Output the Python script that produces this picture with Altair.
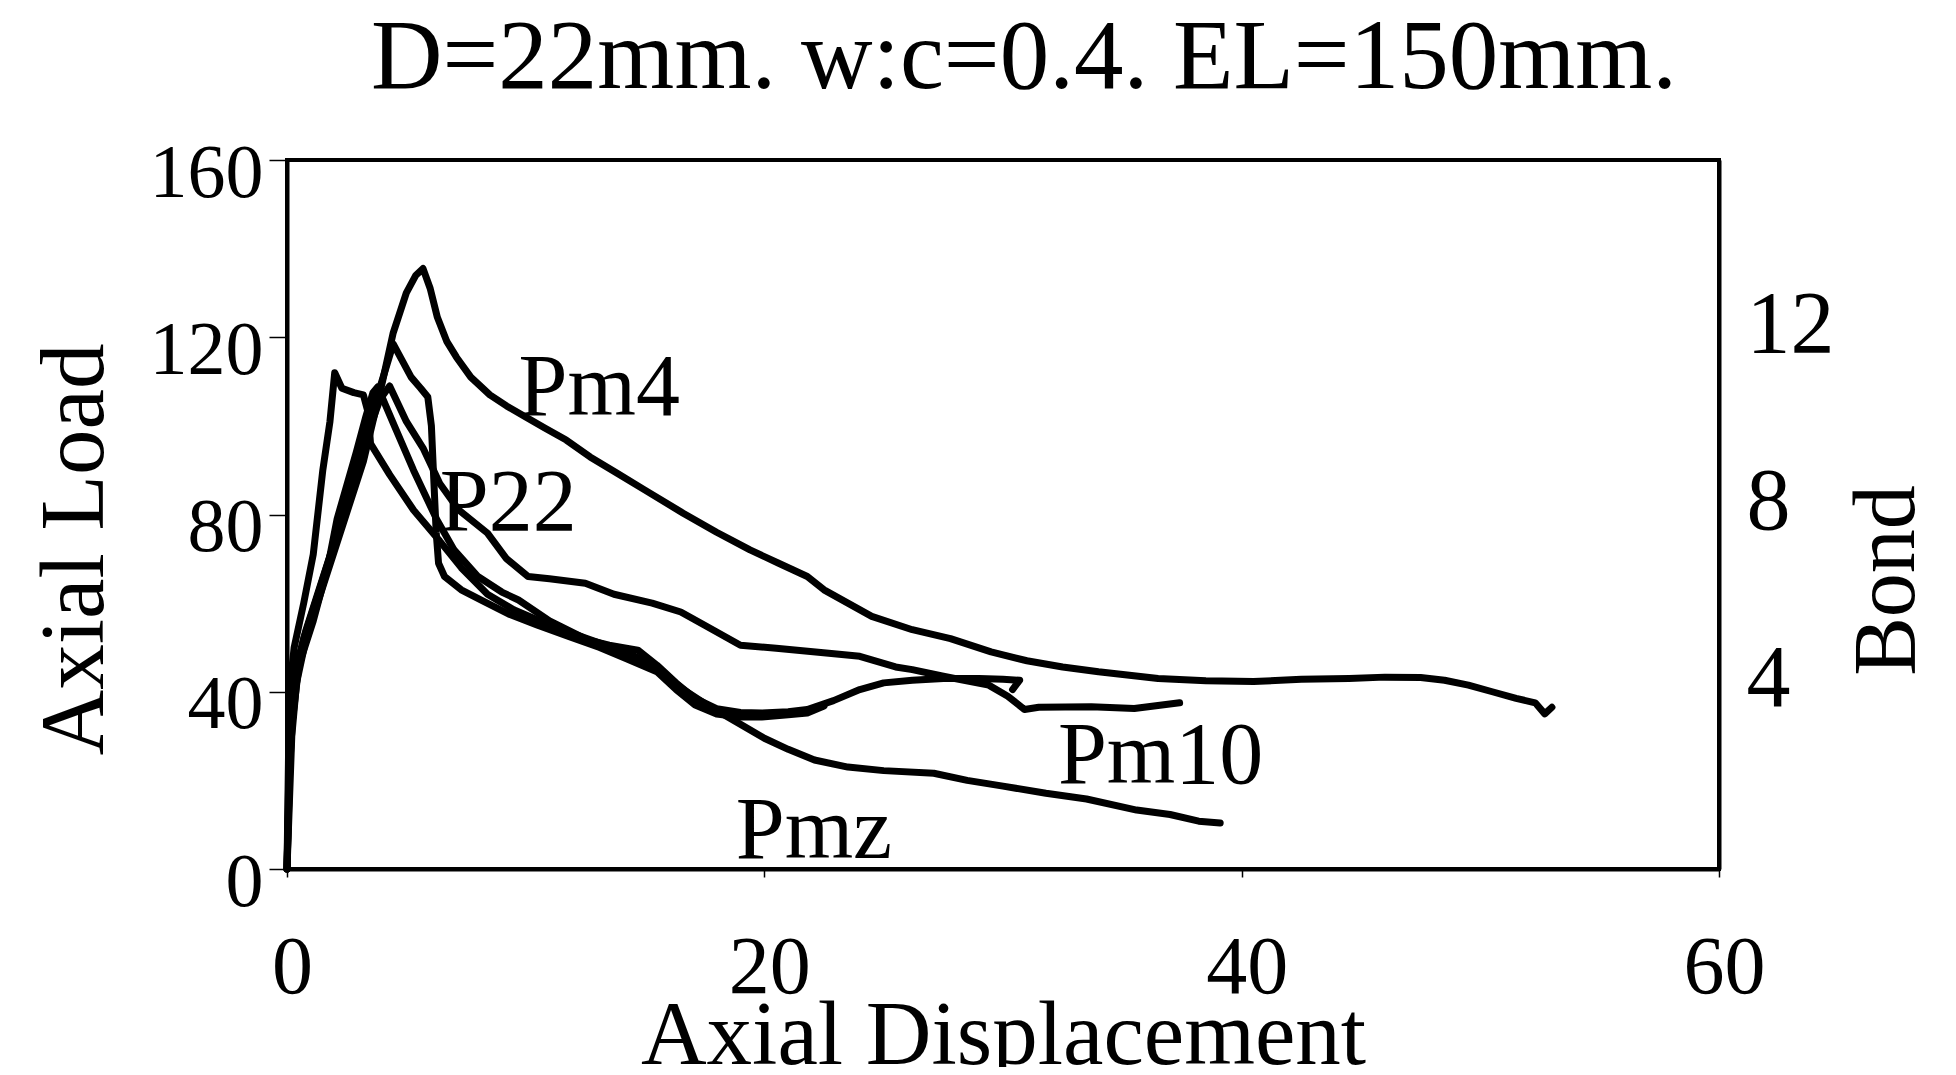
import altair as alt
import pandas as pd

TITLE = "D=22mm. w:c=0.4. EL=150mm."
FONT = "Liberation Serif"

# ---- series (Axial Displacement, Axial Load) ----
pm4_x = [0, 0.1, 0.2, 0.4, 0.8, 1.4, 2.0, 2.6, 3.2, 3.6, 4.0, 4.45, 5.0, 5.4, 5.7, 6.0, 6.3, 6.7, 7.1, 7.7,
         8.5, 9.2, 10.0, 10.8, 11.7, 12.7, 13.8, 15.0, 16.6, 18.0, 19.4, 20.6, 21.8, 22.5, 23.5, 24.5, 26.2,
         27.8, 29.5, 31.0, 32.5, 34.0, 36.5, 38.5, 40.5, 42.5, 44.5, 46.0, 47.5, 48.5, 49.5, 50.5, 51.5,
         52.3, 52.7, 53.0]
pm4_y = [0, 15, 30, 42, 52, 62, 72, 82, 92, 101, 110, 121, 130, 134, 135.5, 131, 124.5, 119, 115.5, 111,
         107, 104.5, 102, 99.5, 96.8, 93, 89.4, 85.5, 80.3, 76, 72, 69, 66, 63, 60, 57, 54,
         52, 49, 47, 45.6, 44.5, 43, 42.5, 42.3, 42.8, 43, 43.3, 43.2, 42.6, 41.5, 40, 38.5,
         37.5, 35, 36.5]

mid_x = [0, 0.1, 0.35, 0.8, 1.4, 2.0, 2.5, 3.0, 3.5, 3.9, 4.3, 5.0, 5.7, 6.4, 7.2, 8.4, 9.2, 10.1, 11.0,
         12.5, 13.7, 15.3, 16.5, 17.5, 19.0, 20.5, 22.7, 24.0, 25.5, 26.2, 27.5, 29.4, 30.2, 30.9, 31.5,
         33.7, 35.5, 37.4]
mid_y = [0, 28, 45, 54, 64, 74, 84, 93, 100, 106, 109, 101, 95, 87, 81, 75.8, 70, 66, 65.5,
         64.5, 62, 60, 58, 55, 50.5, 49.8, 48.7, 48, 45.6, 45, 43.5, 41.5, 39, 36, 36.5,
         36.6, 36.2, 37.5]

dip_x = [0, 0.15, 0.5, 1.1, 1.7, 2.1, 2.9, 3.3, 3.6, 3.8, 4.5, 5.3, 6.28, 7.0, 8.0, 9.0, 9.7, 11.0, 12.6,
         13.5, 14.7, 15.5, 16.3, 17.1, 18.0, 19.0, 19.9, 21.0, 21.8, 22.9, 24.0, 25.0, 26.2, 27.5, 29.0,
         30.0, 30.7, 30.4]
dip_y = [0, 30, 46, 56, 68, 79, 94, 102, 107.5, 108.8, 100, 90, 78.8, 72, 66, 62.5, 60.7, 56, 51.7,
         50.5, 49.4, 46, 42, 38.5, 36.2, 35.3, 35.2, 35.5, 36, 38, 40.5, 42, 42.6, 43, 43,
         42.8, 42.6, 40.5]

pmz_x = [0, 0.05, 0.1, 0.3, 0.7, 1.1, 1.5, 1.8, 2.0, 2.3, 2.8, 3.2, 3.4, 3.5, 4.3, 5.3, 6.4, 7.3, 8.4,
         9.5, 10.6, 11.8, 13.1, 14.2, 15.5, 16.6, 17.6, 18.7, 20.0, 21.0, 22.1, 23.5, 25.0, 27.1, 28.5,
         30.0, 31.8, 33.5, 35.6, 37.0, 38.2, 39.1]
pmz_y = [0, 20, 40, 50, 60, 71, 90, 101, 112, 108.5, 107.5, 107, 103, 96, 89, 81, 74, 68, 62,
         58.5, 56, 53.5, 51, 49, 45.6, 40.5, 37, 33.6, 29.5, 27, 24.6, 23, 22.2, 21.6, 20,
         18.7, 17.1, 15.8, 13.3, 12.3, 10.8, 10.4]

p22_x = [0, 0.1, 0.3, 0.7, 1.3, 2.0, 2.7, 3.3, 3.8, 4.2, 4.45, 4.8, 5.2, 5.6, 5.9, 6.05, 6.15, 6.25, 6.35,
         6.6, 7.3, 8.2, 9.3, 10.5, 11.8, 13.1, 14.2, 15.5, 16.3, 17.1, 18.0, 19.0, 19.9, 21.0, 21.8, 22.5]
p22_y = [0, 22, 40, 52, 62, 74, 86, 97, 107, 114, 118.5, 115, 111, 108.5, 106.5, 100, 88, 76, 69,
         66, 63, 60.5, 57.5, 55, 52.5, 50, 47.5, 44.5, 40.5, 37, 35, 34.3, 34.3, 34.8, 35.2, 36.8]

series = [("Pm4", pm4_x, pm4_y), ("Pm10", mid_x, mid_y), ("Pm10b", dip_x, dip_y),
          ("Pmz", pmz_x, pmz_y), ("P22", p22_x, p22_y)]

# ---- curve labels ----
lab_text = ["Pm4", "P22", "Pm10", "Pmz"]
lab_x = [9.7, 6.4, 32.3, 18.8]
lab_y = [102.5, 76.5, 19.4, 2.5]

# ---- axes ----
x_ticks = [0, 20, 40, 60]
y_ticks = [0, 40, 80, 120, 160]
bond_ticks = [4, 8, 12]

rows = []
for name, xs, ys in series:
    for i, (xv, yv) in enumerate(zip(xs, ys)):
        rows.append({"series": name, "x": xv, "y": yv, "order": i})
df = pd.DataFrame(rows)
lab_df = pd.DataFrame({"label": lab_text, "x": lab_x, "y": lab_y})
bond_df = pd.DataFrame({"bond": bond_ticks})

xscale = alt.Scale(domain=[0, 60], nice=False, zero=False)
yscale = alt.Scale(domain=[0, 160], nice=False)

lines = alt.Chart(df).mark_line(color="black", strokeWidth=7, strokeJoin="round", strokeCap="round").encode(
    x=alt.X("x:Q", scale=xscale, axis=alt.Axis(
        values=x_ticks, title="Axial Displacement", titleFontSize=91, titleY=194,
        titleBaseline="alphabetic", labelFontSize=82, labelPadding=50, labelOffset=5, tickSize=8,
        tickWidth=1.5, labelFlush=False, labelOverlap=False)),
    y=alt.Y("y:Q", scale=yscale, axis=alt.Axis(
        values=y_ticks, title="Axial Load", titleFontSize=91, titleAngle=270, titleX=-212, titleY=389,
        titleAlign="center", titleBaseline="middle", labelFontSize=76, labelBaseline="middle",
        labelOffset=13, labelPadding=6, tickSize=18, tickWidth=1.5, labelFlush=False, labelOverlap=False)),
    detail="series:N",
    order="order:Q",
)

labels = alt.Chart(lab_df).mark_text(font=FONT, fontSize=88, align="left", baseline="alphabetic",
                                     color="black").encode(
    x=alt.X("x:Q", scale=xscale),
    y=alt.Y("y:Q", scale=yscale),
    text="label:N",
)

bond = alt.Chart(bond_df).mark_point(opacity=0).encode(
    y=alt.Y("bond:Q", scale=alt.Scale(domain=[0, 16], nice=False), axis=alt.Axis(
        orient="right", values=bond_ticks, title="Bond", titleFontSize=88, titleAngle=270,
        titleX=168, titleY=420, titleAlign="center", titleBaseline="middle",
        labelFontSize=88, labelBaseline="middle", labelOffset=-12, ticks=False, labelPadding=27,
        labelFlush=False, labelOverlap=False)),
)

chart = alt.layer(alt.layer(lines, labels), bond).resolve_scale(y="independent").properties(
    width=1432, height=709,
    background="white",
    title=alt.TitleParams(text=TITLE, font=FONT, fontSize=99, fontWeight="normal", anchor="middle",
                          frame="group", baseline="alphabetic", offset=0, dx=21, dy=52, color="black"),
    autosize=alt.AutoSizeParams(type="none"),
    padding={"left": 279, "top": 152, "right": 229, "bottom": 198},
).configure_view(stroke="black", strokeWidth=4).configure_axis(
    labelFont=FONT, titleFont=FONT, labelColor="black", titleColor="black", titleFontWeight="normal",
    labelFontWeight="normal", domainColor="black", domainWidth=4, tickColor="black", grid=False,
)

chart.save("out.html", embed_options={"renderer": "svg", "actions": False})
